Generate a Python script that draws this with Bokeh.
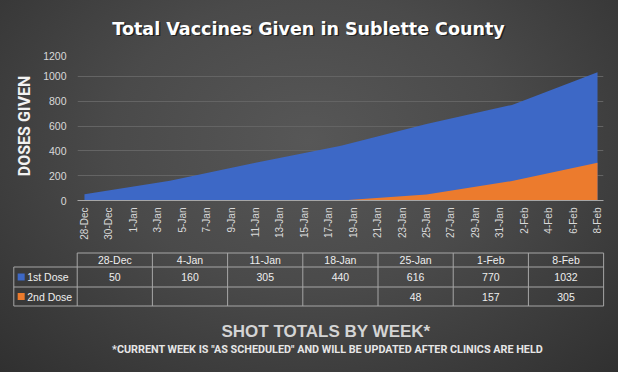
import numpy as np
from bokeh.plotting import figure
from bokeh.models import Range1d, FixedTicker, Label
from bokeh.layouts import column
from bokeh.embed import file_html
from bokeh.resources import INLINE
from bokeh.core.properties import value

# ---------------- data ----------------
title_text = "Total Vaccines Given in Sublette County"
y_title = "DOSES GIVEN"
table_title = "SHOT TOTALS BY WEEK*"
footnote = '*CURRENT WEEK IS "AS SCHEDULED" AND WILL BE UPDATED AFTER CLINICS ARE HELD'

week_labels = ["28-Dec", "4-Jan", "11-Jan", "18-Jan", "25-Jan", "1-Feb", "8-Feb"]
week_day = [0, 7, 14, 21, 28, 35, 42]          # days since 28-Dec
first_dose = [50, 160, 305, 440, 616, 770, 1032]
second_dose = [None, None, None, None, 48, 157, 305]
series_names = ["1st Dose", "2nd Dose"]
series_colors = ["#3D68C6", "#EC7B2D"]

tick_days = [0, 2, 4, 6, 8, 10, 12, 14, 16, 18, 20, 22, 24, 26, 28, 30, 32, 34, 36, 38, 40, 42]
tick_labels = ["28-Dec", "30-Dec", "1-Jan", "3-Jan", "5-Jan", "7-Jan", "9-Jan", "11-Jan",
               "13-Jan", "15-Jan", "17-Jan", "19-Jan", "21-Jan", "23-Jan", "25-Jan", "27-Jan",
               "29-Jan", "31-Jan", "2-Feb", "4-Feb", "6-Feb", "8-Feb"]
y_ticks = [0, 200, 400, 600, 800, 1000, 1200]

W = 618
TXT = "#d9d9d9"


def blank(height, xr, yr):
    f = figure(width=W, height=height, x_range=xr, y_range=yr,
               output_backend="svg", toolbar_location=None, frame_align=False,
               x_axis_location=None, y_axis_location=None,
               min_border_left=0, min_border_right=0, min_border_top=0, min_border_bottom=0,
               background_fill_color=None, border_fill_color=None, outline_line_color=None)
    f.grid.visible = False
    return f


# ---------------- title strip ----------------
h = blank(51, Range1d(0, W), Range1d(0, 51))
h.add_layout(Label(x=309.5, y=21.2, x_units="screen", y_units="screen", text=title_text,
                   text_align="center", text_baseline="alphabetic", text_font="DejaVu Sans",
                   text_font_style="bold", text_font_size="17.5px", text_color="black",
                   text_alpha=0.55))
h.add_layout(Label(x=308, y=22.7, x_units="screen", y_units="screen", text=title_text,
                   text_align="center", text_baseline="alphabetic", text_font="DejaVu Sans",
                   text_font_style="bold", text_font_size="17.5px", text_color="#ffffff"))

# ---------------- chart ----------------
p = figure(width=W, height=199, x_range=Range1d(-0.57, 42.49), y_range=Range1d(0, 1200),
           output_backend="svg", toolbar_location=None, frame_align=False,
           min_border_left=77, min_border_right=15, min_border_top=0, min_border_bottom=50,
           background_fill_color=None, border_fill_color=None, outline_line_color=None)

second_filled = [v if v is not None else 0 for v in second_dose]
p.varea(x=week_day, y1=0, y2=first_dose, fill_color=series_colors[0])
p.varea(x=week_day, y1=0, y2=second_filled, fill_color=series_colors[1])

p.xaxis.ticker = FixedTicker(ticks=tick_days)
p.xaxis.major_label_overrides = {d: l for d, l in zip(tick_days, tick_labels)}
p.xaxis.major_label_orientation = np.pi / 2
p.xaxis.axis_line_color = "#a6a6a6"
p.xaxis.major_tick_line_color = None
p.xaxis.minor_tick_line_color = None
p.xaxis.major_tick_out = 0
p.xaxis.major_label_text_color = TXT
p.xaxis.major_label_text_font = "Liberation Sans"
p.xaxis.major_label_text_font_size = "10px"
p.xaxis.major_label_standoff = 7
p.xgrid.visible = False

p.yaxis.ticker = FixedTicker(ticks=y_ticks)
p.yaxis.axis_line_color = None
p.yaxis.major_tick_line_color = None
p.yaxis.minor_tick_line_color = None
p.yaxis.major_tick_out = 0
p.yaxis.major_label_text_color = TXT
p.yaxis.major_label_text_font = "Liberation Sans"
p.yaxis.major_label_text_font_size = "10.5px"
p.yaxis.major_label_standoff = 11
p.yaxis.axis_label = y_title
p.yaxis.axis_label_text_font = "Roboto"
p.yaxis.axis_label_text_font_style = "bold"
p.yaxis.axis_label_text_font_size = "16px"
p.yaxis.axis_label_text_color = "#f2f2f2"
p.yaxis.axis_label_standoff = 6
p.ygrid.ticker = FixedTicker(ticks=y_ticks)
p.ygrid.grid_line_color = "#646464"

# ---------------- table ----------------
t = blank(122, Range1d(-1.02, 7.198), Range1d(372, 250))

n = len(week_labels)
LEFT = -0.843
Y_TOP, Y_R1, Y_R2, Y_BOT = 252.5, 266.5, 286.5, 305.5
GRID = "#a6a6a6"

t.segment(x0=[0, LEFT, LEFT, LEFT], x1=[n, n, n, n], y0=[Y_TOP, Y_R1, Y_R2, Y_BOT],
          y1=[Y_TOP, Y_R1, Y_R2, Y_BOT], line_color=GRID, line_width=1)
t.segment(x0=[LEFT] + list(range(n + 1)), x1=[LEFT] + list(range(n + 1)),
          y0=[Y_R1] + [Y_TOP] * (n + 1), y1=[Y_BOT] * (n + 2), line_color=GRID, line_width=1)

centers = [i + 0.5 for i in range(n)]
tf = value("Liberation Sans")
TC = "#eeeeee"
t.text(x=centers, y=[(Y_TOP + Y_R1) / 2] * n, text=week_labels, text_font=tf,
       text_font_size="10.5px", text_color=TC, text_align="center", text_baseline="middle")
t.text(x=centers, y=[(Y_R1 + Y_R2) / 2] * n, text=[str(v) for v in first_dose], text_font=tf,
       text_font_size="10.5px", text_color=TC, text_align="center", text_baseline="middle")
sx = [c for c, v in zip(centers, second_dose) if v is not None]
sv = [str(v) for v in second_dose if v is not None]
t.text(x=sx, y=[(Y_R2 + Y_BOT) / 2] * len(sx), text=sv, text_font=tf,
       text_font_size="10.5px", text_color=TC, text_align="center", text_baseline="middle")

row_y = [(Y_R1 + Y_R2) / 2, (Y_R2 + Y_BOT) / 2]
t.scatter(x=[-0.745, -0.745], y=row_y, marker="square", size=7, fill_color=series_colors,
          line_color=None)
t.text(x=[-0.665, -0.665], y=row_y, text=series_names, text_font=tf, text_font_size="10.5px",
       text_color=TC, text_align="left", text_baseline="middle")

t.add_layout(Label(x=325.5, y=40.7, x_units="screen", y_units="screen", text=table_title,
                   text_align="center", text_baseline="alphabetic", text_font="Liberation Sans",
                   text_font_style="bold", text_font_size="17px", text_color="#d4d4d4"))
t.add_layout(Label(x=327, y=22.7, x_units="screen", y_units="screen", text=footnote,
                   text_align="center", text_baseline="alphabetic",
                   text_font="Roboto", text_font_style="bold",
                   text_font_size="10.8px", text_color="#e6e6e6"))

layout = column(h, p, t, spacing=0, styles={
    "background": "radial-gradient(ellipse at 50% 38%, #575757 0%, #4a4a4a 45%, #303030 100%)"})

open("out.html", "w").write(file_html(layout, INLINE))
